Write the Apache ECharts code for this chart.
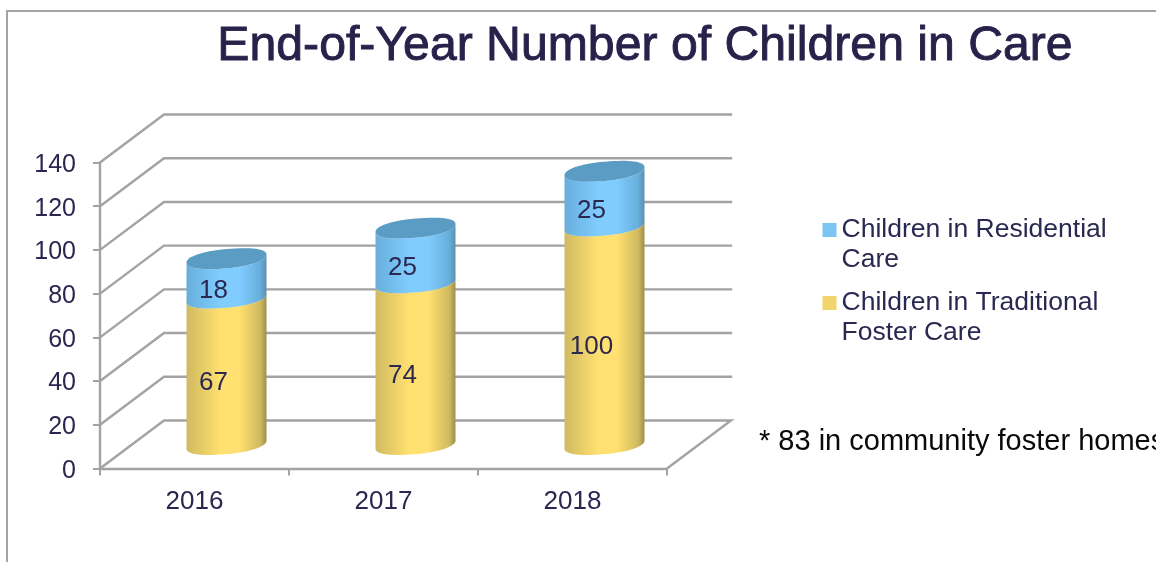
<!DOCTYPE html>
<html>
<head>
<meta charset="utf-8">
<style>html,body{margin:0;padding:0;background:#fff}#chart{width:1156px;height:562px}</style>
<script src="https://cdn.jsdelivr.net/npm/echarts@6/dist/echarts.min.js"></script>
</head>
<body>
<div id="chart"></div>
<script>
// Children in care at year end, by placement type.
const years = ['2016', '2017', '2018'];
const residential = [18, 25, 25];
const traditional = [67, 74, 100];
const valueTicks = [0, 20, 40, 60, 80, 100, 120, 140];
const residentialName = 'Children in Residential Care';
const traditionalName = 'Children in Traditional Foster Care';
// The blank first line keeps each swatch level with the first line of its wrapped name.
const legendLines = {
  [residentialName]: ' \nChildren in Residential\nCare',
  [traditionalName]: ' \nChildren in Traditional\nFoster Care'
};

const INK = '#2a2850';
const WALL = '#a3a3a3';
const FONT = '"Liberation Sans", Arial, sans-serif';

// Projection of the chart box: how far the back wall sits from the front plane.
const DEPTH_X = 64;
const DEPTH_Y = 48;
const RX = 40;      // cylinder half width
const RY = 9.6;     // ellipse half height
const TILT = 4;     // the ellipse leans up to the right
const ROUND = 0.9;  // below 1 makes the ellipse ends a little fuller

function soft(v) {
  return Math.sign(v) * Math.pow(Math.abs(v), ROUND);
}

function arc(cx, cy, from, to) {
  const pts = [];
  const steps = 64;
  for (let k = 0; k <= steps; k++) {
    const t = from + (to - from) * k / steps;
    const c = Math.cos(t);
    const s = Math.sin(t);
    pts.push([cx + RX * soft(c), cy + RY * soft(s) - TILT * c]);
  }
  return pts;
}

function sideGradient(dark, light, darker) {
  return new echarts.graphic.LinearGradient(0, 0, 1, 0, [
    { offset: 0, color: dark },
    { offset: 0.42, color: light },
    { offset: 0.66, color: light },
    { offset: 0.92, color: dark },
    { offset: 1, color: darker }
  ]);
}

function cylinder(palette) {
  return function (params, api) {
    const i = api.value(0);
    const base = api.value(1);
    const top = api.value(2);
    const centre = api.coord([i, base]);
    const upper = api.coord([i, top]);
    const cx = centre[0] + DEPTH_X / 2;
    const yLow = centre[1] - DEPTH_Y / 2;
    const yHigh = upper[1] - DEPTH_Y / 2;
    const body = arc(cx, yLow, 0, Math.PI).concat(arc(cx, yHigh, Math.PI, 0));
    const children = [
      { type: 'polygon', shape: { points: body }, style: { fill: sideGradient(palette[0], palette[1], palette[2]) } },
      { type: 'polygon', shape: { points: arc(cx, yHigh, 0, Math.PI * 2) }, style: { fill: palette[3] } },
      {
        type: 'text',
        z2: 10,
        style: {
          text: String(top - base),
          x: centre[0] + 19,
          y: (centre[1] + upper[1]) / 2 - 12,
          align: 'center',
          verticalAlign: 'middle',
          fill: INK,
          font: '26px ' + FONT
        }
      }
    ];
    return { type: 'group', children: children };
  };
}

function renderWalls(params, api) {
  const box = params.coordSys;
  const y = api.coord([0, api.value(0)])[1];
  const left = box.x;
  const right = box.x + box.width;
  const stroke = { stroke: WALL, lineWidth: 2.4, fill: 'none', lineCap: 'square' };
  const pts = [[left, y], [left + DEPTH_X, y - DEPTH_Y], [right + DEPTH_X, y - DEPTH_Y]];
  // The floor closes back to the front right corner.
  if (api.value(0) === 0) pts.push([right, y]);
  return { type: 'polyline', shape: { points: pts }, style: stroke };
}

const chart = echarts.init(document.getElementById('chart'), null, { renderer: 'canvas' });
chart.setOption({
  animation: false,
  backgroundColor: '#ffffff',
  title: {
    text: 'End-of-Year Number of Children in Care',
    left: 640, top: 18, textAlign: 'center',
    textStyle: { fontFamily: FONT, fontSize: 48.2, fontWeight: 'normal', color: '#26224a', textBorderColor: '#26224a', textBorderWidth: 0.9 }
  },
  legend: {
    orient: 'vertical',
    left: 817.5, top: 180,
    itemWidth: 14, itemHeight: 14, itemGap: -17,
    icon: 'rect',
    selectedMode: false,
    data: [residentialName, traditionalName],
    formatter: function (name) { return legendLines[name]; },
    textStyle: { fontFamily: FONT, fontSize: 26.5, lineHeight: 30, color: INK }
  },
  grid: { left: 100, right: 489, top: 162.5, bottom: 93.5 },
  xAxis: {
    type: 'category',
    data: years,
    axisLine: { lineStyle: { color: WALL, width: 2.4 } },
    axisTick: { show: true, length: 7, lineStyle: { color: WALL, width: 2 } },
    axisLabel: { fontFamily: FONT, fontSize: 26, color: INK, margin: 20 }
  },
  yAxis: {
    type: 'value',
    min: 0, max: 140, interval: 20,
    splitLine: { show: false },
    axisLine: { show: true, lineStyle: { color: WALL, width: 2.4 } },
    axisTick: { show: true, length: 7, lineStyle: { color: WALL, width: 2 } },
    axisLabel: {
      color: INK,
      margin: 24,
      formatter: '{n|{value}}',
      rich: { n: { fontFamily: FONT, fontSize: 25, color: INK, padding: [5, 0, 0, 0] } }
    }
  },
  series: [
    {
      type: 'custom', name: 'walls', silent: true, z: 1,
      data: valueTicks.map(v => [v]),
      encode: { y: 0 },
      renderItem: renderWalls
    },
    {
      type: 'custom', name: traditionalName, silent: true, z: 2,
      itemStyle: { color: '#f3d46a' },
      data: years.map((_, i) => [i, 0, traditional[i]]),
      encode: { x: 0, y: [1, 2] },
      renderItem: cylinder(['#d0ba60', '#ffe070', '#a08e4c', '#ffe070'])
    },
    {
      type: 'custom', name: residentialName, silent: true, z: 3,
      itemStyle: { color: '#7cc4f2' },
      data: years.map((_, i) => [i, traditional[i], traditional[i] + residential[i]]),
      encode: { x: 0, y: [1, 2] },
      renderItem: cylinder(['#67aedb', '#80ccff', '#5a8fb0', '#5b9cc4'])
    }
  ],
  graphic: [
    // Outer panel edge along the top and left of the page
    { type: 'polyline', silent: true, shape: { points: [[1156, 11], [7, 11], [7, 562]] }, style: { stroke: '#a3a3a3', lineWidth: 2, fill: 'none' } },
    { type: 'text', silent: true, left: 759, top: 427.5, style: { text: '* 83 in community foster homes', fill: '#0a0a0a', font: '29px ' + FONT } }
  ]
});
</script>
</body>
</html>
